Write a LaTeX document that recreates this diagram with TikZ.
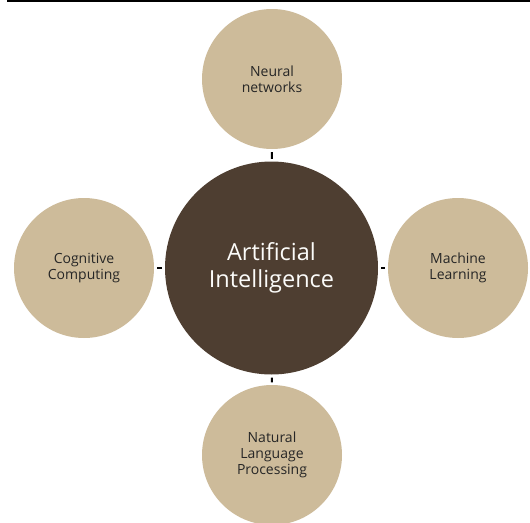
\documentclass[tikz,border=0pt]{standalone}
\usepackage{fontspec}
\setmainfont{Open Sans}
\definecolor{tan}{HTML}{CDBB9A}
\definecolor{darkbrown}{HTML}{4E3E31}
\begin{document}
\begin{tikzpicture}[x=1pt,y=-1pt,
  outer/.style={circle,fill=tan,minimum size=140pt,inner sep=0pt,align=center,
    font=\fontsize{14}{15.8}\selectfont,text=black!85},
  hub/.style={circle,fill=darkbrown,minimum size=213pt,inner sep=0pt,align=center,
    font=\fontsize{23.5}{27}\selectfont,text=white!95!tan},
  tick/.style={draw=black,line width=2pt,shorten <=3pt,shorten >=2.5pt}]
\useasboundingbox (0,0) rectangle (530,522);
\draw[line width=1.5pt] (7,0.75) -- (530,0.75);
\node[hub] (ai) at (271.5,268) {Artificial\\Intelligence};
\node[outer] (nn) at (272,79) {Neural\\networks};
\node[outer] (ml) at (458,268) {Machine\\Learning};
\node[outer] (cc) at (84,268) {Cognitive\\Computing};
\node[outer] (nlp) at (272,455) {Natural\\Language\\Processing};
\draw[tick] (nn) -- (ai);
\draw[tick] (ai) -- (ml);
\draw[tick] (cc) -- (ai);
\draw[tick] (ai) -- (nlp);
\end{tikzpicture}
\end{document}
